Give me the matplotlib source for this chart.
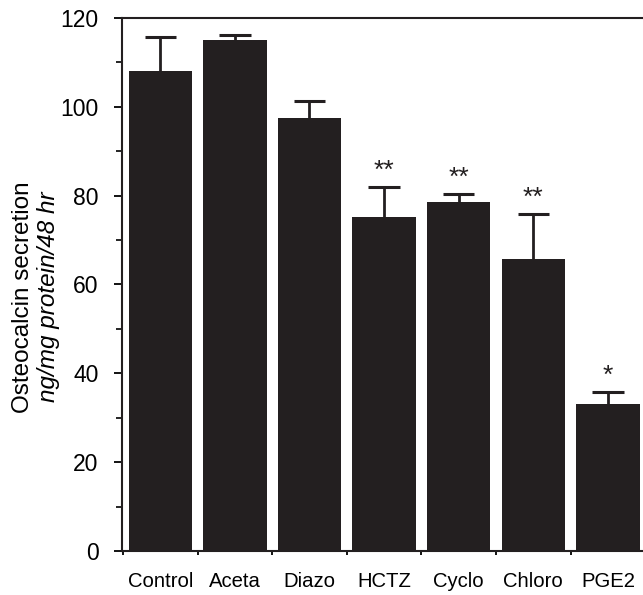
import numpy as np
import matplotlib
matplotlib.use("Agg")
import matplotlib.pyplot as plt
from matplotlib.ticker import MultipleLocator, FixedLocator

# --- Data ---
groups = ["Control", "Aceta", "Diazo", "HCTZ", "Cyclo", "Chloro", "PGE2"]
means = [108.0, 115.1, 97.5, 75.1, 78.6, 65.7, 33.0]
err_up = [7.7, 1.1, 3.8, 6.8, 1.8, 10.2, 2.8]
stars = ["", "", "", "**", "**", "**", "*"]
star_y = [0, 0, 0, 85.6, 84.0, 79.4, 39.4]

plt.rcParams['font.family'] = ['Liberation Sans', 'DejaVu Sans']

fig = plt.figure(figsize=(6.43, 5.95), dpi=100)
ax = fig.add_axes([0.19, 0.074, 0.81, 0.896])

x = np.arange(len(groups))
bar_color = "#231f20"
ax.bar(x, means, width=0.85, color=bar_color, edgecolor=bar_color, linewidth=0)

# chybové úsečky jen nahoru
tops = np.array(means) + np.array(err_up)
ax.vlines(x, means, tops, color=bar_color, linewidth=2)
ax.hlines(tops, x - 0.21, x + 0.21, color=bar_color, linewidth=2.2)

# hvězdičky signifikance
for xi, s, sy in zip(x, stars, star_y):
    if s:
        ax.text(xi, sy, s, ha="center", va="center", fontsize=19, color=bar_color)

ax.set_xlim(-0.51, 6.47)
ax.set_ylim(0, 120)

# osa Y
ax.yaxis.set_major_locator(MultipleLocator(20))
ax.yaxis.set_minor_locator(MultipleLocator(10))
ax.tick_params(axis="y", which="major", direction="out", length=6, width=1.3,
               labelsize=16.5, pad=11)
ax.tick_params(axis="y", which="minor", direction="out", length=4, width=1.2)

# osa X - popisky uprostřed sloupců, čárky mezi nimi
ax.set_xticks(x)
ax.set_xticklabels(groups)
ax.xaxis.set_minor_locator(FixedLocator(np.arange(-0.5, 6.0, 1.0)))
ax.tick_params(axis="x", which="major", length=0, labelsize=14.6, pad=15)
ax.tick_params(axis="x", which="minor", direction="out", length=3, width=1.3)

for side in ["left", "bottom", "top"]:
    ax.spines[side].set_linewidth(1.5)
    ax.spines[side].set_color(bar_color)
ax.spines["right"].set_visible(False)

# popisek osy Y na dva řádky (druhý kurzívou)
ylab_center = 1 - 297 / 595
fig.text(23 / 643, ylab_center, "Osteocalcin secretion",
         rotation=90, ha="center", va="center", fontsize=17.5)
fig.text(48 / 643, ylab_center, "ng/mg protein/48 hr",
         rotation=90, ha="center", va="center", fontsize=17.5, style="italic")

fig.savefig("out.png", dpi=100)
